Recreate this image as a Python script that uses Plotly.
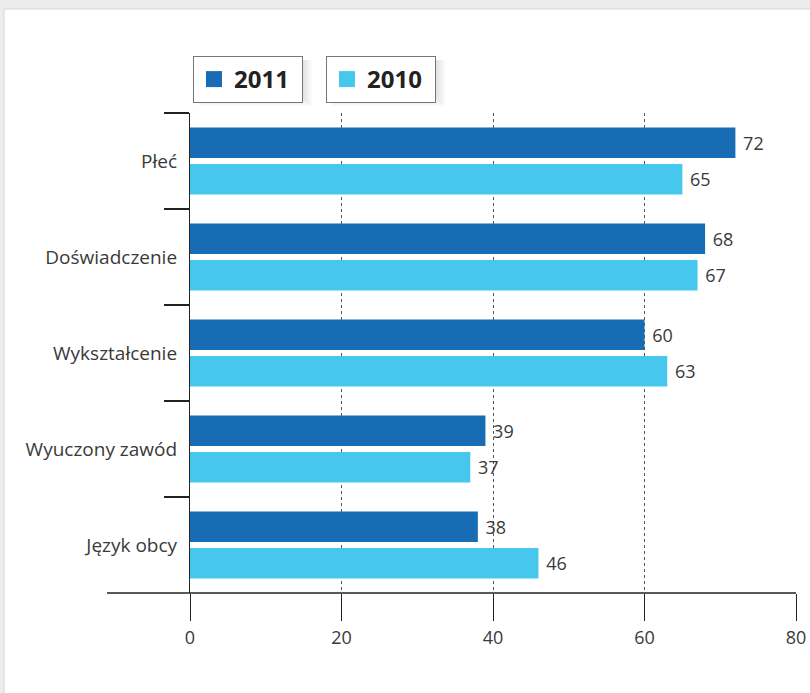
import plotly.graph_objects as go

categories = ["Płeć", "Doświadczenie", "Wykształcenie", "Wyuczony zawód", "Język obcy"]
values_2011 = [72, 68, 60, 39, 38]
values_2010 = [65, 67, 63, 37, 46]
series_names = ["2011", "2010"]
x_ticks = [0, 20, 40, 60, 80]

C2011 = "#176cb3"
C2010 = "#46c7ed"
FONT = "Open Sans"
TXT = "#3a3a3a"

W, H = 810, 693
L, R, T, B = 190, 14, 113, 100
pw, ph = W - L - R, H - T - B

def px_x(p):
    return (p - L) / pw

def px_y(p):
    return (H - B - p) / ph

fig = go.Figure()
for name, vals, col in [(series_names[0], values_2011, C2011), (series_names[1], values_2010, C2010)]:
    fig.add_trace(go.Bar(
        y=categories, x=vals, orientation="h", name=name,
        marker=dict(color=col, line=dict(width=0)),
        text=vals, texttemplate="\u00a0%{x}", textposition="outside",
        textfont=dict(family=FONT, size=18, color=TXT),
        cliponaxis=False, showlegend=False,
    ))

# legend entries
fig.add_trace(go.Scatter(x=[None], y=[None], mode="markers", name=series_names[0],
                         marker=dict(symbol="square", size=16, color=C2011), legend="legend"))
fig.add_trace(go.Scatter(x=[None], y=[None], mode="markers", name=series_names[1],
                         marker=dict(symbol="square", size=16, color=C2010), legend="legend2"))

shapes = []
# white panel
shapes.append(dict(type="rect", xref="paper", yref="paper",
                   x0=px_x(4), x1=px_x(830), y0=px_y(720), y1=px_y(9),
                   fillcolor="white", line=dict(color="#d6d6d6", width=1), layer="below"))
# legend shadows
for (bx0, bx1) in [(193, 303), (326, 436)]:
    for i in range(5):
        d = 1 + i * 2
        shapes.append(dict(type="rect", xref="paper", yref="paper",
                           x0=px_x(bx0 + 2 + i), x1=px_x(bx1 + d), y0=px_y(96 + d + 1), y1=px_y(60),
                           fillcolor="rgba(90,90,100,1)", opacity=0.035, line=dict(width=0), layer="below"))
# extended x-axis baseline
shapes.append(dict(type="line", xref="paper", yref="paper",
                   x0=px_x(107), x1=1, y0=0, y1=0, line=dict(color="#222222", width=1.5)))

legend_common = dict(xanchor="left", yanchor="top", orientation="h",
                     bgcolor="white", bordercolor="#777777", borderwidth=1,
                     entrywidth=63, entrywidthmode="pixels",
                     font=dict(family=FONT, size=24, color="#222222", weight="bold"))

fig.update_layout(
    width=W, height=H,
    margin=dict(l=L, r=R, t=T, b=B, autoexpand=False),
    paper_bgcolor="#ececec",
    plot_bgcolor="rgba(0,0,0,0)",
    barmode="group", bargap=0.24, bargroupgap=0.164,
    font=dict(family=FONT, color=TXT),
    shapes=shapes,
    legend=dict(x=px_x(193), y=px_y(56), **legend_common),
    legend2=dict(x=px_x(326), y=px_y(56), **legend_common),
    xaxis=dict(range=[0, 80], tickvals=x_ticks, ticktext=[str(v) for v in x_ticks],
               showgrid=True, gridcolor="#555555", griddash="dot", gridwidth=1,
               zeroline=False, showline=False, automargin=False,
               ticks="outside", ticklen=27, tickcolor="#222222", tickwidth=1,
               ticklabelstandoff=1,
               tickfont=dict(family=FONT, size=18, color=TXT), fixedrange=True),
    yaxis=dict(type="category", categoryorder="array", categoryarray=categories,
               autorange="reversed", showgrid=False, zeroline=False, automargin=False,
               showline=True, linecolor="#222222", linewidth=1.2,
               ticks="outside", tickson="boundaries", ticklen=25, tickcolor="#222222", tickwidth=1.5,
               ticklabelstandoff=8,
               tickfont=dict(family=FONT, size=19, color=TXT)),
)

fig.write_html("out.html")
